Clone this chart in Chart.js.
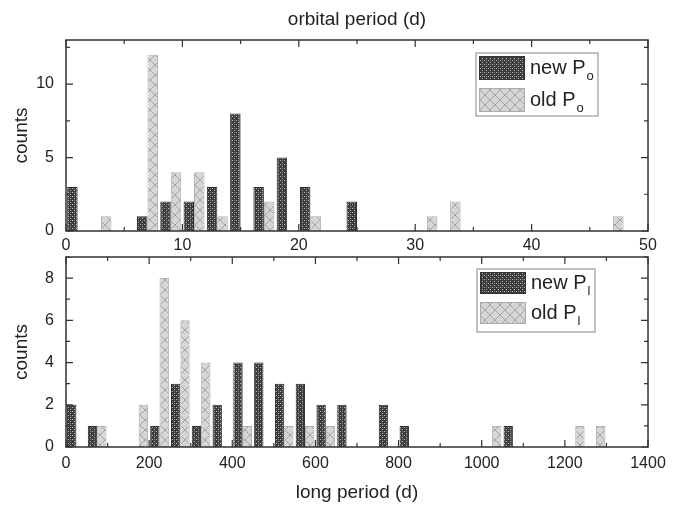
<!DOCTYPE html>
<html>
<head>
<meta charset="utf-8">
<script src="https://cdn.jsdelivr.net/npm/chart.js@4.4.1/dist/chart.umd.min.js"></script>
<style>
  body { margin: 0; background: #fff; }
  #wrap { position: relative; width: 694px; height: 508px; }
  .box { position: absolute; left: 0; width: 694px; }
</style>
</head>
<body>
<div id="wrap">
  <div class="box" style="top:0;height:255px"><canvas id="orbitalChart"></canvas></div>
  <div class="box" style="top:255px;height:253px"><canvas id="longChart"></canvas></div>
</div>
<script>
// histogram bins (start of bin) and counts
const orbitalBins = [0, 2, 4, 6, 8, 10, 12, 14, 16, 18, 20, 22, 24, 26, 28, 30, 32, 34, 36, 38, 40, 42, 44, 46, 48];
const newPo = [3, 0, 0, 1, 2, 2, 3, 8, 3, 5, 3, 0, 2, 0, 0, 0, 0, 0, 0, 0, 0, 0, 0, 0, 0];
const oldPo = [0, 1, 0, 12, 4, 4, 1, 0, 2, 0, 1, 0, 0, 0, 0, 1, 2, 0, 0, 0, 0, 0, 0, 1, 0];
const orbitalXTicks = [0, 10, 20, 30, 40, 50];
const orbitalYTicks = [0, 5, 10];

const longBins = [0, 50, 100, 150, 200, 250, 300, 350, 400, 450, 500, 550, 600, 650, 700, 750, 800, 850, 900, 950, 1000, 1050, 1100, 1150, 1200, 1250, 1300, 1350];
const newPl = [2, 1, 0, 0, 1, 3, 1, 2, 4, 4, 3, 3, 2, 2, 0, 2, 1, 0, 0, 0, 0, 1, 0, 0, 0, 0, 0, 0];
const oldPl = [0, 1, 0, 2, 8, 6, 4, 0, 1, 0, 1, 1, 1, 0, 0, 0, 0, 0, 0, 0, 1, 0, 0, 0, 1, 1, 0, 0];
const longXTicks = [0, 200, 400, 600, 800, 1000, 1200, 1400];
const longYTicks = [0, 2, 4, 6, 8];

const FONT = "'Liberation Sans', Arial, sans-serif";
const TEXT = '#222';

// stippled dark fill for the new values
function makeNewPattern() {
  const c = document.createElement('canvas');
  c.width = 4; c.height = 4;
  const g = c.getContext('2d');
  g.fillStyle = '#3c3c3c';
  g.fillRect(0, 0, 4, 4);
  g.fillStyle = '#b8b8b8';
  g.fillRect(0, 0, 1, 1);
  g.fillRect(2, 2, 1, 1);
  g.fillStyle = '#777';
  g.fillRect(2, 0, 1, 1);
  return g.createPattern(c, 'repeat');
}

// light grey cross hatch for the old values
function makeOldPattern() {
  const c = document.createElement('canvas');
  c.width = 10; c.height = 10;
  const g = c.getContext('2d');
  g.fillStyle = '#d6d6d6';
  g.fillRect(0, 0, 10, 10);
  g.strokeStyle = '#a4a4a4';
  g.lineWidth = 1;
  g.beginPath();
  g.moveTo(0, 0); g.lineTo(10, 10);
  g.moveTo(10, 0); g.lineTo(0, 10);
  g.stroke();
  return g.createPattern(c, 'repeat');
}

const newPattern = makeNewPattern();
const oldPattern = makeOldPattern();

function zeroToNull(arr) {
  return arr.map(v => (v === 0 ? null : v));
}

// frame with inward ticks on all four sides, plus the boxed legend
const framePlugin = {
  id: 'frame',
  afterDraw(chart, args, opts) {
    const ctx = chart.ctx;
    const a = chart.chartArea;
    const xs = chart.scales.xl;
    const ys = chart.scales.y;
    ctx.save();
    ctx.strokeStyle = '#333';
    ctx.lineWidth = 1.5;
    ctx.strokeRect(a.left, a.top, a.right - a.left, a.bottom - a.top);
    ctx.lineWidth = 1.2;
    ctx.beginPath();
    for (let v = xs.min; v <= xs.max + 1e-9; v += opts.xMinor) {
      const px = xs.getPixelForValue(v);
      const isMajor = Math.abs(v / opts.xMajor - Math.round(v / opts.xMajor)) < 1e-6;
      const len = isMajor ? 7 : 4;
      ctx.moveTo(px, a.bottom); ctx.lineTo(px, a.bottom - len);
      ctx.moveTo(px, a.top); ctx.lineTo(px, a.top + len);
    }
    for (let v = 0; v <= ys.max + 1e-9; v += opts.yMinor) {
      const py = ys.getPixelForValue(v);
      const isMajor = Math.abs(v / opts.yMajor - Math.round(v / opts.yMajor)) < 1e-6;
      const len = isMajor ? 7 : 4;
      ctx.moveTo(a.left, py); ctx.lineTo(a.left + len, py);
      ctx.moveTo(a.right, py); ctx.lineTo(a.right - len, py);
    }
    ctx.stroke();

    // legend
    const L = opts.legend;
    ctx.fillStyle = '#fff';
    ctx.fillRect(L.x, L.y, L.w, L.h);
    ctx.strokeStyle = '#999';
    ctx.lineWidth = 1.2;
    ctx.strokeRect(L.x, L.y, L.w, L.h);
    const rows = [
      { fill: newPattern, border: '#333', label: 'new P', sub: L.sub },
      { fill: oldPattern, border: '#aaa', label: 'old P', sub: L.sub }
    ];
    rows.forEach((r, i) => {
      const ry = L.y + 3 + i * L.rowH;
      ctx.fillStyle = r.fill;
      ctx.fillRect(L.x + 3, ry, 46, L.rowH - 8);
      ctx.strokeStyle = r.border;
      ctx.lineWidth = 1;
      ctx.strokeRect(L.x + 3.5, ry + 0.5, 45, L.rowH - 9);
      ctx.fillStyle = TEXT;
      ctx.font = '20px ' + FONT;
      ctx.textBaseline = 'middle';
      ctx.textAlign = 'left';
      const ty = ry + (L.rowH - 8) / 2;
      ctx.fillText(r.label, L.x + 54, ty);
      const w = ctx.measureText(r.label).width;
      ctx.font = '13px ' + FONT;
      ctx.fillText(r.sub, L.x + 54 + w + 1, ty + 8);
    });
    ctx.restore();
  }
};

function makeChart(id, cfg) {
  return new Chart(document.getElementById(id), {
    type: 'bar',
    data: {
      labels: cfg.bins.map(String),
      datasets: [
        {
          label: 'new',
          data: zeroToNull(cfg.newVals),
          backgroundColor: newPattern,
          borderColor: '#2a2a2a',
          borderWidth: 1,
          categoryPercentage: 0.9,
          barPercentage: 1.0
        },
        {
          label: 'old',
          data: zeroToNull(cfg.oldVals),
          backgroundColor: oldPattern,
          borderColor: '#b0b0b0',
          borderWidth: 1,
          categoryPercentage: 0.9,
          barPercentage: 1.0
        }
      ]
    },
    options: {
      responsive: true,
      maintainAspectRatio: false,
      animation: false,
      layout: { padding: { top: 0, right: 46, left: 0, bottom: 0 } },
      plugins: {
        legend: { display: false },
        tooltip: { enabled: false },
        frame: cfg.frame
      },
      scales: {
        x: { type: 'category', display: false, offset: true },
        xl: {
          type: 'linear',
          position: 'bottom',
          offset: false,
          min: cfg.xMin,
          max: cfg.xMax,
          afterBuildTicks(s) { s.ticks = cfg.xTicks.map(v => ({ value: v })); },
          ticks: { color: TEXT, font: { family: FONT, size: 16 }, padding: cfg.xTickPad, callback: v => String(v) },
          grid: { display: false, drawTicks: false, offset: false },
          border: { display: false },
          title: cfg.xTitle ? { display: true, text: cfg.xTitle, color: TEXT, font: { family: FONT, size: 19 }, padding: { top: 10 } } : { display: false },
          afterFit(s) { s.height = cfg.bottomH; s.paddingLeft = 0; s.paddingRight = 0; }
        },
        xt: {
          type: 'linear',
          position: 'top',
          offset: false,
          min: cfg.xMin,
          max: cfg.xMax,
          ticks: { display: false },
          grid: { display: false, drawTicks: false, offset: false },
          border: { display: false },
          title: cfg.topTitle ? { display: true, text: cfg.topTitle, color: TEXT, font: { family: FONT, size: 19 }, padding: { top: 8, bottom: 0 } } : { display: false },
          afterFit(s) { s.height = cfg.topH; s.paddingLeft = 0; s.paddingRight = 0; }
        },
        y: {
          min: 0,
          max: cfg.yMax,
          afterBuildTicks(s) { s.ticks = cfg.yTicks.map(v => ({ value: v })); },
          ticks: { color: TEXT, font: { family: FONT, size: 16 }, padding: 12 },
          grid: { display: false, drawTicks: false },
          border: { display: false },
          title: { display: true, text: 'counts', color: TEXT, font: { family: FONT, size: 19 }, padding: { top: 10, bottom: 0 } },
          afterFit(s) { s.width = 66; s.paddingTop = 0; s.paddingBottom = 0; }
        }
      }
    },
    plugins: [framePlugin]
  });
}

makeChart('orbitalChart', {
  bins: orbitalBins, newVals: newPo, oldVals: oldPo,
  xMin: 0, xMax: 50, xTicks: orbitalXTicks, yMax: 13, yTicks: orbitalYTicks,
  topH: 40, bottomH: 24, xTickPad: 5, topTitle: 'orbital period (d)', xTitle: null,
  frame: { xMinor: 5, xMajor: 10, yMinor: 2.5, yMajor: 5,
           legend: { x: 476, y: 53, w: 122, h: 63, rowH: 32, sub: 'o' } }
});

makeChart('longChart', {
  bins: longBins, newVals: newPl, oldVals: oldPl,
  xMin: 0, xMax: 1400, xTicks: longXTicks, yMax: 9, yTicks: longYTicks,
  topH: 2, bottomH: 61, xTickPad: 7, topTitle: null, xTitle: 'long period (d)',
  frame: { xMinor: 100, xMajor: 200, yMinor: 1, yMajor: 2,
           legend: { x: 477, y: 14, w: 118, h: 63, rowH: 30, sub: 'l' } }
});
</script>
</body>
</html>
